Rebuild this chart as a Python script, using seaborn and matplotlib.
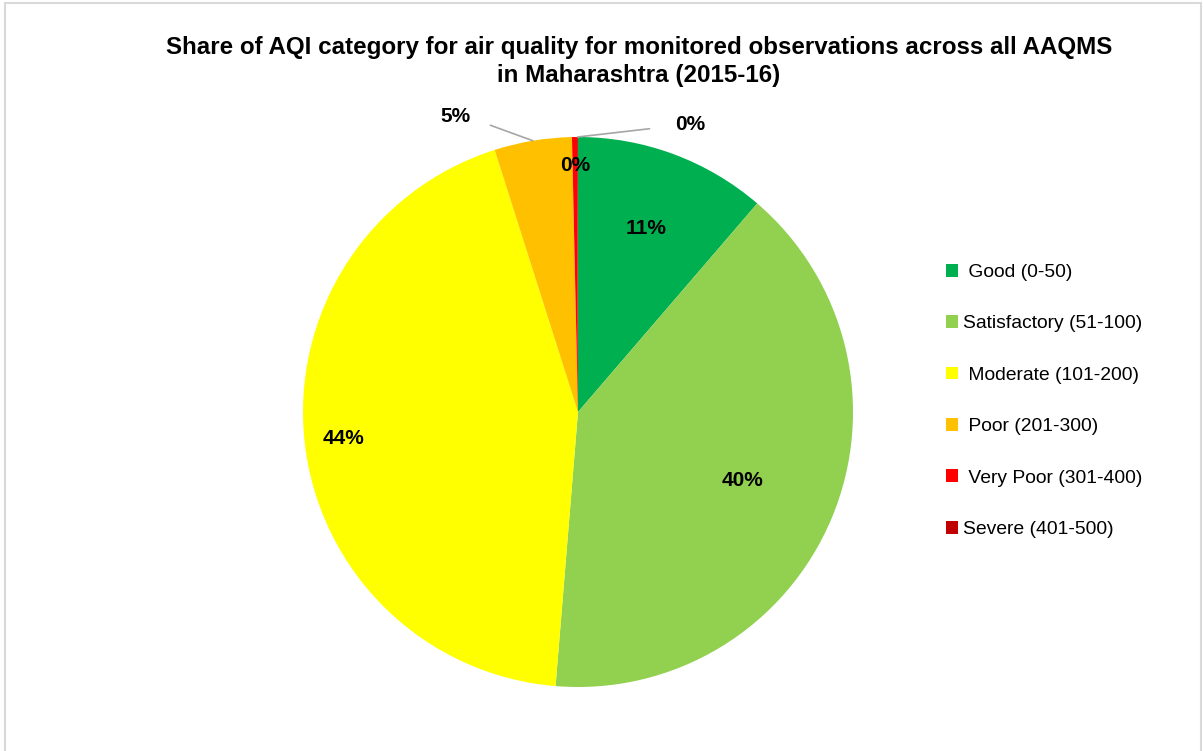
import matplotlib
matplotlib.use("Agg")
import matplotlib.pyplot as plt
import seaborn as sns
from matplotlib.patches import Rectangle
import numpy as np

categories = ["Good (0-50)", "Satisfactory (51-100)", "Moderate (101-200)",
              "Poor (201-300)", "Very Poor (301-400)", "Severe (401-500)"]
legend_labels = [" Good (0-50)", "Satisfactory (51-100)", " Moderate (101-200)",
                 " Poor (201-300)", " Very Poor (301-400)", "Severe (401-500)"]
shares = [11.3, 40.0, 43.8, 4.55, 0.3, 0.05]
colors = ["#00B050", "#92D050", "#FFFF00", "#FFC000", "#FF0000", "#C00000"]
title = "Share of AQI category for air quality for monitored observations across all AAQMS\nin Maharashtra (2015-16)"

sns.set_theme(style="white")
plt.rcParams['font.family'] = ['Liberation Sans', 'DejaVu Sans']
plt.rcParams['text.color'] = 'black'

fig = plt.figure(figsize=(12.03, 7.51), dpi=100)
fig.patch.set_facecolor("white")
fig.patches.append(Rectangle((0.004, -0.01), 0.994, 1.006, transform=fig.transFigure,
                             fill=False, edgecolor="#D9D9D9", linewidth=1.5))

ax = fig.add_axes([(578 - 275) / 1203, (751 - 687) / 751, 550 / 1203, 550 / 751])
wedges, _ = ax.pie(shares, colors=colors, startangle=90, counterclock=False,
                   wedgeprops=dict(linewidth=0), radius=1.0)
ax.set_xlim(-1, 1)
ax.set_ylim(-1, 1)
ax.set_aspect("equal")
ax.axis("off")

total = sum(shares)
pct_text = ["%.0f%%" % (100 * v / total) for v in shares]
# label distances (fraction of radius) per slice
dists = [0.71, 0.65, 0.86, None, 0.895, None]
for w, t, d in zip(wedges, pct_text, dists):
    mid = np.deg2rad((w.theta1 + w.theta2) / 2)
    if d is not None:
        ax.text(d * np.cos(mid), d * np.sin(mid), t, ha="center", va="center",
                fontsize=15, fontweight="bold", color="black")

# Poor label with leader line
w = wedges[3]
mid = np.deg2rad((w.theta1 + w.theta2) / 2)
ax.annotate(pct_text[3], xy=(np.cos(mid), np.sin(mid)), xytext=(-0.447, 1.073),
            ha="center", va="center", fontsize=15, fontweight="bold",
            annotation_clip=False,
            arrowprops=dict(arrowstyle="-", color="#A6A6A6", lw=1.2,
                            shrinkA=13, shrinkB=0,
                            connectionstyle="angle,angleA=0,angleB=160,rad=0"))
# Severe label with leader line
w = wedges[5]
mid = np.deg2rad((w.theta1 + w.theta2) / 2)
ax.annotate(pct_text[5], xy=(np.cos(mid), np.sin(mid)), xytext=(0.407, 1.047),
            ha="center", va="center", fontsize=15, fontweight="bold",
            annotation_clip=False,
            arrowprops=dict(arrowstyle="-", color="#A6A6A6", lw=1.2,
                            shrinkA=16, shrinkB=0))

fig.text(0.531, 1 - 61.5 / 751, title, ha="center", va="center", fontsize=17.4,
         fontweight="bold", linespacing=1.27)

leg = fig.legend(wedges, legend_labels, loc="upper left",
                 bbox_to_anchor=(938 / 1203, 1 - 256 / 751), frameon=False,
                 fontsize=13.9, handlelength=0.65, handleheight=0.65,
                 handletextpad=0.25, labelspacing=1.77, borderaxespad=0)

fig.savefig("out.png", dpi=100, facecolor="white")
